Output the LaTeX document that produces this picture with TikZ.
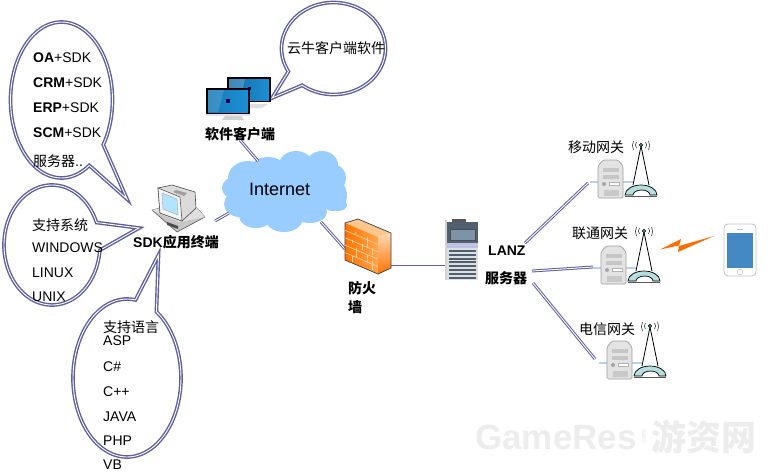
\documentclass[tikz,border=0pt]{standalone}
\usepackage{fontspec}
\setmainfont{Liberation Sans}
\newfontfamily\cjk{Noto Sans CJK SC}
\definecolor{rim}{HTML}{5F5FA3}
\definecolor{cloudblue}{HTML}{99CCFF}
\definecolor{dishblue}{HTML}{B4DEE0}
\definecolor{screenblue}{HTML}{1C8FD6}
\definecolor{stubblue}{HTML}{B5D3F0}
\definecolor{phoneblue}{HTML}{4488C4}
\definecolor{rackdark}{HTML}{4F6070}
\definecolor{rackmid}{HTML}{7F93A8}
\definecolor{markgray}{HTML}{EDEDED}
\tikzset{
  txt/.style={anchor=west,inner sep=0pt,font=\fontsize{14}{14}\selectfont},
  boldtxt/.style={txt,font=\fontsize{14}{14}\selectfont\bfseries},
  bubble/.style={draw=rim,double=white,double distance=0.9pt,line width=1.4pt,line join=miter,miter limit=20,fill=white},
  link/.style={draw=rim,double=white,double distance=0.9pt,line width=1pt},
  stub/.style={line width=2.4pt,color=stubblue},
  brick/.style={draw=orange!35!white,line width=0.6pt},
}
\newcommand{\gatewayicon}[2]{%
\begin{scope}[shift={(#1,#2)}]
  \draw[stub] (590,182) -- (598,182);
  \draw[stub] (622,182) -- (634,182);
  \draw[draw=gray!75,fill=gray!22,rounded corners=1.5pt,line width=0.7pt] (598,166) -- (603,160) -- (618,160) -- (623,166) -- (623,198) -- (598,198) -- cycle;
  \fill[gray!45] (603,168) rectangle (619,172);
  \fill[gray!45] (603,175) rectangle (619,179);
  \fill[gray!70] (604,184) circle (2);
  \draw[gray!60,fill=white] (609,182) rectangle (619,185);
  \fill[gray!42] (604,190) rectangle (619,196);
  \draw[black,line width=0.8pt] (633,185) -- (641,146) -- (649,185);
  \fill[fill=dishblue,draw=black,line width=0.7pt] (625,195) arc[start angle=180,end angle=0,x radius=16,y radius=-10] -- (650,195) arc[start angle=0,end angle=180,x radius=8.5,y radius=-5] -- cycle;
  \draw[gray!70!black,line width=1pt] (625,196) -- (657,196);
  \fill[teal!50!gray,draw=black,line width=0.4pt] (641,145) circle (1.8);
  \draw[gray!50!black,line width=0.6pt] (633.5,141) .. controls (632,144) and (632,147) .. (633.5,150);
  \draw[gray!50!black,line width=0.6pt] (636.5,142) .. controls (635,144) and (635,146) .. (636.5,148);
  \draw[gray!50!black,line width=0.6pt] (648.5,141) .. controls (650,144) and (650,147) .. (648.5,150);
  \draw[gray!50!black,line width=0.6pt] (645.5,142) .. controls (647,144) and (647,146) .. (645.5,148);
\end{scope}}
\begin{document}
\begin{tikzpicture}[x=1pt,y=-1pt]
\useasboundingbox (0,0) rectangle (781,472);
\fill[white] (0,0) rectangle (781,472);

% watermark
\node[anchor=west,inner sep=0pt,text=markgray,font=\fontsize{35}{35}\selectfont\bfseries] (markA) at (475,437) {GameRes};
\node[anchor=center,rotate=90,inner sep=0pt,text=markgray,font=\fontsize{7}{7}\selectfont\bfseries] (markB) at (644,437) {.com};
\node[anchor=west,inner sep=0pt,text=markgray,font=\fontsize{35}{35}\selectfont\cjk\bfseries] (markC) at (651,437) {游资网};

% cloud
\fill[cloudblue]
  (285,190) ellipse (46 and 30)
  (248,178) ellipse (20 and 17)
  (234,188) ellipse (12 and 11)
  (240,204) ellipse (16 and 13)
  (256,216) ellipse (17 and 12)
  (284,218) ellipse (19 and 14)
  (310,212) ellipse (17 and 11)
  (268,170) ellipse (18 and 13)
  (296,165) ellipse (17 and 14)
  (322,165) ellipse (16 and 14)
  (335,178) ellipse (11 and 13)
  (333,195) ellipse (14 and 16)
  (338,205) ellipse (9 and 6);

% connector anchors
\coordinate (pcEnd) at (215,221);
\coordinate (cloudPc) at (229,213);
\coordinate (clientEnd) at (240,140);
\coordinate (cloudClient) at (258,161);
\coordinate (cloudWall) at (321,222);
\coordinate (wallCloud) at (345,249);
\coordinate (wallRack) at (391,266);
\coordinate (rackWall) at (446,266);
\coordinate (rackA) at (525,243);
\coordinate (gwA) at (588,183);
\coordinate (rackB) at (532,271);
\coordinate (gwB) at (593,267);
\coordinate (rackC) at (533,283);
\coordinate (gwC) at (595,359);
\draw[link] (pcEnd) -- (cloudPc);
\draw[link] (clientEnd) -- (cloudClient);
\draw[link] (cloudWall) -- (wallCloud);
\draw[link] (wallRack) -- (rackWall);
\draw[link] (rackA) -- (gwA);
\draw[link] (rackB) -- (gwB);
\draw[link] (rackC) -- (gwC);

% callouts
\draw[bubble] plot[domain=57:395,samples=90] ({61.5+51*cos(\x)},{100+78*sin(\x)}) -- (127,199) -- cycle;
\draw[bubble] plot[domain=5:338,samples=90] ({52+48*cos(\x)},{245+60*sin(\x)}) -- (139,228) -- cycle;
\draw[bubble] plot[domain=-57:279,samples=90] ({127+54*cos(\x)},{378+79*sin(\x)}) -- (158.5,255) -- cycle;
\draw[bubble] plot[domain=150:487,samples=90] ({333.5+52*cos(\x)},{48.5+46*sin(\x)}) -- (272,98) -- cycle;

% callout texts
\node[txt] (t1) at (33,58) {\textbf{OA}+SDK};
\node[txt] (t2) at (33,83) {\textbf{CRM}+SDK};
\node[txt] (t3) at (33,108) {\textbf{ERP}+SDK};
\node[txt] (t4) at (33,133) {\textbf{SCM}+SDK};
\node[txt] (t5) at (33,161) {{\cjk 服务器}..};
\node[txt] (s1) at (32,225) {\cjk 支持系统};
\node[txt] (s2) at (32,248) {WINDOWS};
\node[txt] (s3) at (32,273) {LINUX};
\node[txt] (s4) at (32,297) {UNIX};
\node[txt] (l0) at (103,327) {\cjk 支持语言};
\node[txt] (l1) at (103,341) {ASP};
\node[txt] (l2) at (103,367) {C\#};
\node[txt] (l3) at (103,392) {C++};
\node[txt] (l4) at (103,417) {JAVA};
\node[txt] (l5) at (103,441) {PHP};
\node[txt] (l6) at (103,465) {VB};
\node[txt] (yn) at (287,48) {\cjk 云牛客户端软件};

% monitors
\fill[gray!25] (250,104) -- (268,104) -- (262,108) -- (250,108) -- cycle;
\fill[black] (227,77) rectangle (271,102);
\shade[left color=screenblue!75!black,right color=screenblue] (229,79) rectangle (269,100);
\fill[white,opacity=0.2] (229,79) -- (245,79) -- (240,100) -- (229,100) -- cycle;
\fill[gray!35] (222,120) -- (244,120) -- (241,116) -- (225,116) -- cycle;
\fill[gray!20] (206,114) rectangle (250,116);
\fill[black] (206,88) rectangle (250,114);
\shade[left color=screenblue!85!black,right color=screenblue] (208,90) rectangle (248,112);
\fill[white,opacity=0.15] (208,90) -- (224,90) -- (218,112) -- (208,112) -- cycle;
\fill[black!70!blue] (226,98.5) rectangle (229.5,103);
\fill[black!70!blue] (248,87) rectangle (251,90);
\node[boldtxt] (client) at (205,134) {\cjk\bfseries 软件客户端};

% PC icon
\filldraw[draw=gray!70!black,fill=gray!45,line width=0.6pt] (152,210) -- (177,232) -- (205,217) -- (197,208) -- (172,205) -- cycle;
\fill[gray!25] (152,210) -- (172,205) -- (197,208) -- (205,217) -- (180,222) -- (160,214) -- cycle;
\filldraw[draw=gray!60!black,fill=gray!28,line width=0.6pt] (158,188) -- (172,185) -- (195,192) -- (196,208) -- (182,221) -- (160,213) -- cycle;
\filldraw[draw=gray!70!black,fill=gray!8,line width=0.6pt] (158,188) -- (180,197) -- (182,221) -- (160,213) -- cycle;
\fill[blue!35!cyan!30!white,draw=gray!70] (162,193) -- (177,199) -- (178,215) -- (163,209) -- cycle;
\fill[gray!75] (176,190) -- (187,193) -- (184,196) -- (173,192) -- cycle;
\fill[black!70] (167,222) -- (178,226) -- (178,229) -- (167,225) -- cycle;
\node[boldtxt] (pc) at (133,242) {SDK{\cjk\bfseries 应用终端}};

% Internet label
\node[anchor=west,inner sep=0pt,font=\fontsize{18}{18}\selectfont] (net) at (249,189) {Internet};

% firewall
\fill[orange!45!white] (345,223) -- (358,219) -- (391,233) -- (378,237) -- cycle;
\shade[left color=orange!90!red,right color=orange!70!white] (345,223) -- (378,237) -- (378,274) -- (345,260) -- cycle;
\shade[top color=orange!30!white,bottom color=orange!90!red] (378,237) -- (391,233) -- (391,268) -- (378,274) -- cycle;
\draw[gray!50!black,line width=0.7pt] (345,223) -- (358,219) -- (391,233) -- (391,268) -- (378,274) -- (345,260) -- cycle;
\foreach \t in {0.2,0.4,0.6,0.8}{
  \draw[brick] (345,223+37*\t) -- (378,237+37*\t);
}
\draw[brick] (355,232) -- (355,235) (367,237) -- (367,247) (352,240) -- (352,243) (362,244) -- (362,250) (372,248) -- (372,255) (356,248) -- (356,258) (367,255) -- (367,263) (352,256) -- (352,262) (372,261) -- (372,270);
\node[boldtxt] (fw1) at (348,288) {\cjk\bfseries 防火};
\node[boldtxt] (fw2) at (348,307) {\cjk\bfseries 墙};

% rack server
\fill[gray!35] (445,220) rectangle (447,280);
\fill[rackdark] (447,222) rectangle (478,243);
\fill[black!65] (452,219) rectangle (466,222);
\fill[rackmid] (450,229) rectangle (475,240);
\draw[black!70,line width=0.4pt] (450,229) rectangle (475,240);
\fill[cyan!25!blue!25!white] (447,243) rectangle (478,248);
\fill[gray!25] (447,248) rectangle (478,280);
\foreach \yy in {250,253.8,257.6,261.4,265.2,269,272.8,276.6}{
  \fill[rackdark] (449,\yy) rectangle (476,\yy+2);
}
\node[boldtxt] (lanz) at (488,251) {LANZ};
\node[boldtxt] (srv) at (485,278) {\cjk\bfseries 服务器};

% gateways
\gatewayicon{0}{0}
\gatewayicon{3}{86}
\gatewayicon{9}{181}
\node[txt] (g1) at (568,147) {\cjk 移动网关};
\node[txt] (g2) at (572,233) {\cjk 联通网关};
\node[txt] (g3) at (579,329) {\cjk 电信网关};

% lightning
\fill[orange!85!red] (660,249.5) -- (681,239) -- (679,246) -- (714,236) -- (678,252) -- (679,245.5) -- cycle;

% phone
\draw[gray!45,fill=white,rounded corners=4pt,line width=0.9pt] (724,224) rectangle (756,276);
\fill[phoneblue] (727,233) rectangle (753,268);
\draw[gray!50,line width=0.8pt] (737,229) -- (743,229);
\draw[gray!50,line width=0.5pt] (740,272) circle (2.7);
\end{tikzpicture}
\end{document}
